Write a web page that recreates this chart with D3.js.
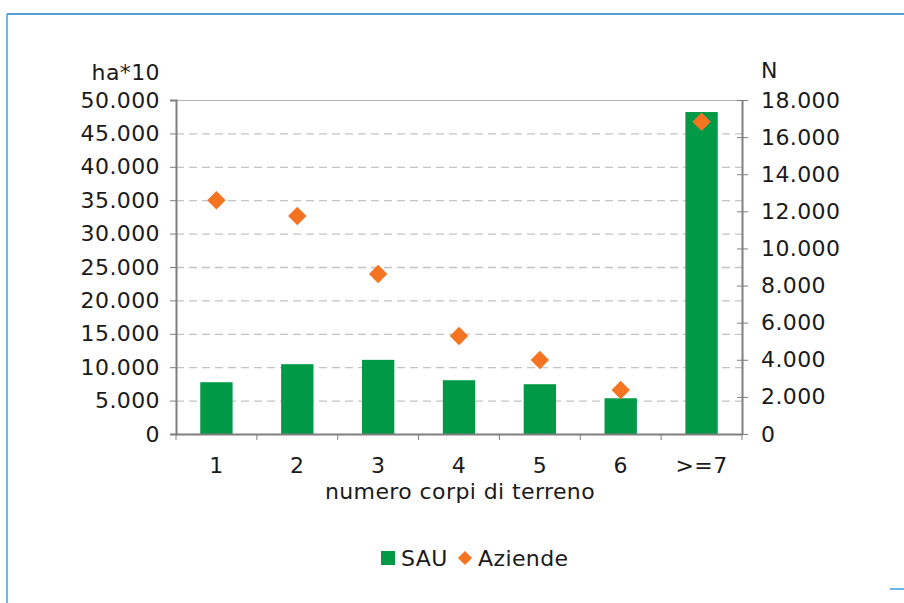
<!DOCTYPE html>
<html>
<head>
<meta charset="utf-8">
<script src="https://cdn.jsdelivr.net/npm/d3@7"></script>
<style>
  body { margin: 0; background: #fff; }
  text { font-family: "DejaVu Sans", Verdana, sans-serif; fill: #1a1a1a; font-size: 22px; letter-spacing: 0.4px; }
</style>
</head>
<body>
<div id="container"></div>
<script>
// data
var categories = ["1", "2", "3", "4", "5", "6", ">=7"];
var sauValues = [7750, 10450, 11100, 8050, 7450, 5350, 48200];      // ha*10, left axis
var aziendeValues = [12600, 11750, 8620, 5280, 3990, 2370, 16830];  // N, right axis
var leftTicks = [0, 5000, 10000, 15000, 20000, 25000, 30000, 35000, 40000, 45000, 50000];
var rightTicks = [0, 2000, 4000, 6000, 8000, 10000, 12000, 14000, 16000, 18000];

var W = 904, H = 603;
var margin = { top: 100, right: 162, bottom: 169, left: 176 },
    width = W - margin.left - margin.right,
    height = H - margin.top - margin.bottom;

var svg = d3.select("#container").append("svg")
    .attr("width", W)
    .attr("height", H);

// blue frame bits
svg.append("line").attr("x1", 7).attr("y1", 14).attr("x2", W).attr("y2", 14)
    .attr("stroke", "#1f7bc9").attr("stroke-width", 1.5);
svg.append("line").attr("x1", 7).attr("y1", 14).attr("x2", 7).attr("y2", H)
    .attr("stroke", "#3aa6e6").attr("stroke-width", 1.5);
svg.append("line").attr("x1", 890).attr("y1", 589).attr("x2", W).attr("y2", 589)
    .attr("stroke", "#3a9ee0").attr("stroke-width", 1.5);

var g = svg.append("g").attr("transform", "translate(" + margin.left + "," + margin.top + ")");

// scales
var xScale = d3.scaleBand().domain(categories).range([0, width]);
var yLeft = d3.scaleLinear().domain([0, 50000]).range([height, 0]);
var yRight = d3.scaleLinear().domain([0, 18000]).range([height, 0]);

var fmt = function(d) { return d3.format(",")(d).replace(/,/g, "."); };

// dashed grid lines
g.selectAll(".grid").data(leftTicks.slice(1, -1)).enter().append("line")
    .attr("x1", 0).attr("x2", width)
    .attr("y1", function(d) { return yLeft(d) + 0.5; })
    .attr("y2", function(d) { return yLeft(d) + 0.5; })
    .attr("stroke", "#c4c4c4").attr("stroke-width", 1.3)
    .attr("stroke-dasharray", "8,5");

// top border of plot
g.append("line").attr("x1", 0).attr("x2", width).attr("y1", 0.5).attr("y2", 0.5)
    .attr("stroke", "#b5b5b5").attr("stroke-width", 1);

// bars
var barW = xScale.bandwidth() * 0.4;
g.selectAll(".bar").data(sauValues).enter().append("rect")
    .attr("x", function(d, i) { return xScale(categories[i]) + (xScale.bandwidth() - barW) / 2; })
    .attr("y", function(d) { return yLeft(d); })
    .attr("width", barW)
    .attr("height", function(d) { return height - yLeft(d); })
    .attr("fill", "#009a46");

// diamonds
var diamond = d3.symbol().type(d3.symbolSquare).size(170);
g.selectAll(".pt").data(aziendeValues).enter().append("path")
    .attr("d", diamond)
    .attr("transform", function(d, i) {
        return "translate(" + (xScale(categories[i]) + xScale.bandwidth() / 2) + "," + yRight(d) + ") rotate(45)";
    })
    .attr("fill", "#f47421");

// left axis
var leftAxis = g.append("g")
    .call(d3.axisLeft(yLeft).tickValues(leftTicks).tickFormat(fmt).tickSize(6).tickPadding(10));
leftAxis.select(".domain").attr("stroke", "#7f7f7f").attr("stroke-width", 2);
leftAxis.selectAll(".tick line").attr("stroke", "#7f7f7f");
leftAxis.selectAll("text").attr("font-size", null).attr("font-family", null);

// right axis
var rightAxis = g.append("g").attr("transform", "translate(" + width + ",0)")
    .call(d3.axisRight(yRight).tickValues(rightTicks).tickFormat(fmt).tickSizeInner(6).tickSizeOuter(0).tickPadding(13));
rightAxis.select(".domain").attr("stroke", "#7f7f7f").attr("stroke-width", 2);
rightAxis.selectAll(".tick line").attr("x1", -5).attr("stroke", "#7f7f7f");
rightAxis.selectAll("text").attr("font-size", null).attr("font-family", null);

// bottom axis
var xAxis = g.append("g").attr("transform", "translate(0," + height + ")")
    .call(d3.axisBottom(xScale).tickSize(0).tickPadding(23));
xAxis.select(".domain").attr("stroke", "#7f7f7f").attr("stroke-width", 2);
xAxis.selectAll("text").attr("font-size", null).attr("font-family", null);
// ticks at category boundaries
g.selectAll(".xtick").data(d3.range(categories.length + 1)).enter().append("line")
    .attr("x1", function(i) { return i * xScale.bandwidth(); })
    .attr("x2", function(i) { return i * xScale.bandwidth(); })
    .attr("y1", height).attr("y2", height + 6)
    .attr("stroke", "#7f7f7f");

// axis titles
svg.append("text").attr("x", 160).attr("y", 80).attr("text-anchor", "end").text("ha*10");
svg.append("text").attr("x", 761).attr("y", 78).text("N");
svg.append("text").attr("x", margin.left + width / 2 + 1).attr("y", 499).attr("text-anchor", "middle")
    .text("numero corpi di terreno");

// legend
var legend = svg.append("g").attr("transform", "translate(381,558)");
legend.append("rect").attr("x", 0).attr("y", -7).attr("width", 14).attr("height", 14).attr("fill", "#009a46");
legend.append("text").attr("x", 20).attr("y", 8).text("SAU");
legend.append("path").attr("d", d3.symbol().type(d3.symbolSquare).size(100))
    .attr("transform", "translate(84,0) rotate(45)").attr("fill", "#f47421");
legend.append("text").attr("x", 97).attr("y", 8).text("Aziende");
</script>
</body>
</html>
